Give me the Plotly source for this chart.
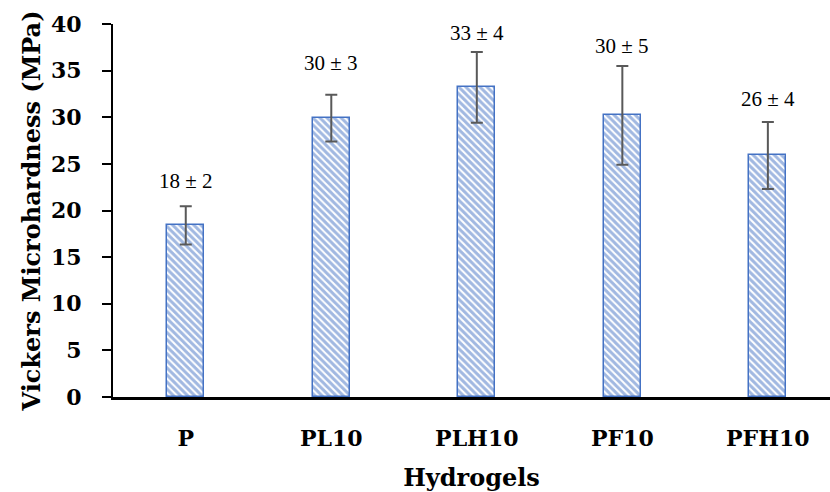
import plotly.graph_objects as go

categories = ["P", "PL10", "PLH10", "PF10", "PFH10"]
means = [18.4, 29.9, 33.2, 30.2, 25.9]
errors = [2.05, 2.5, 3.8, 5.3, 3.6]
labels = ["18 ± 2", "30 ± 3", "33 ± 4", "30 ± 5", "26 ± 4"]
label_y = [23.2, 35.8, 39.0, 37.6, 32.0]
y_ticks = [0, 5, 10, 15, 20, 25, 30, 35, 40]

blue = "#4472C4"
tick_font = dict(family="DejaVu Serif", size=22, color="black", weight="bold")
title_font = dict(family="DejaVu Serif", size=24, color="black", weight="bold")

fig = go.Figure()
fig.add_trace(go.Bar(
    x=categories, y=means, width=0.255,
    marker=dict(color="white", line=dict(color=blue, width=1.5),
                pattern=dict(shape="\\", fgcolor=blue, bgcolor="white",
                             size=5, solidity=0.6)),
    error_y=dict(type="data", array=errors, visible=True,
                 color="#595959", thickness=2, width=6),
    showlegend=False,
))

for c, t, ly in zip(categories, labels, label_y):
    fig.add_annotation(x=c, y=ly, text=t, showarrow=False,
                       font=dict(family="Liberation Serif", size=21, color="black"),
                       xanchor="center", yanchor="middle")

fig.update_layout(
    width=830, height=492,
    margin=dict(l=113, r=0, t=24, b=95),
    plot_bgcolor="white", paper_bgcolor="white",
    bargap=0,
)
fig.update_xaxes(
    range=[-0.5, 4.427], showline=True, linecolor="black", linewidth=2.5,
    ticks="", tickfont=tick_font, ticklabelstandoff=20,
    title=dict(text="Hydrogels", font=title_font, standoff=20),
    showgrid=False, zeroline=False,
)
fig.update_yaxes(
    range=[0, 40], tickvals=y_ticks, showline=True, linecolor="black", linewidth=2,
    ticks="outside", ticklen=9, tickwidth=2, tickcolor="black",
    tickfont=tick_font, ticklabelstandoff=16,
    title=dict(text="Vickers Microhardness (MPa)", font=title_font, standoff=4),
    showgrid=False, zeroline=False,
)

fig.write_html("out.html")
